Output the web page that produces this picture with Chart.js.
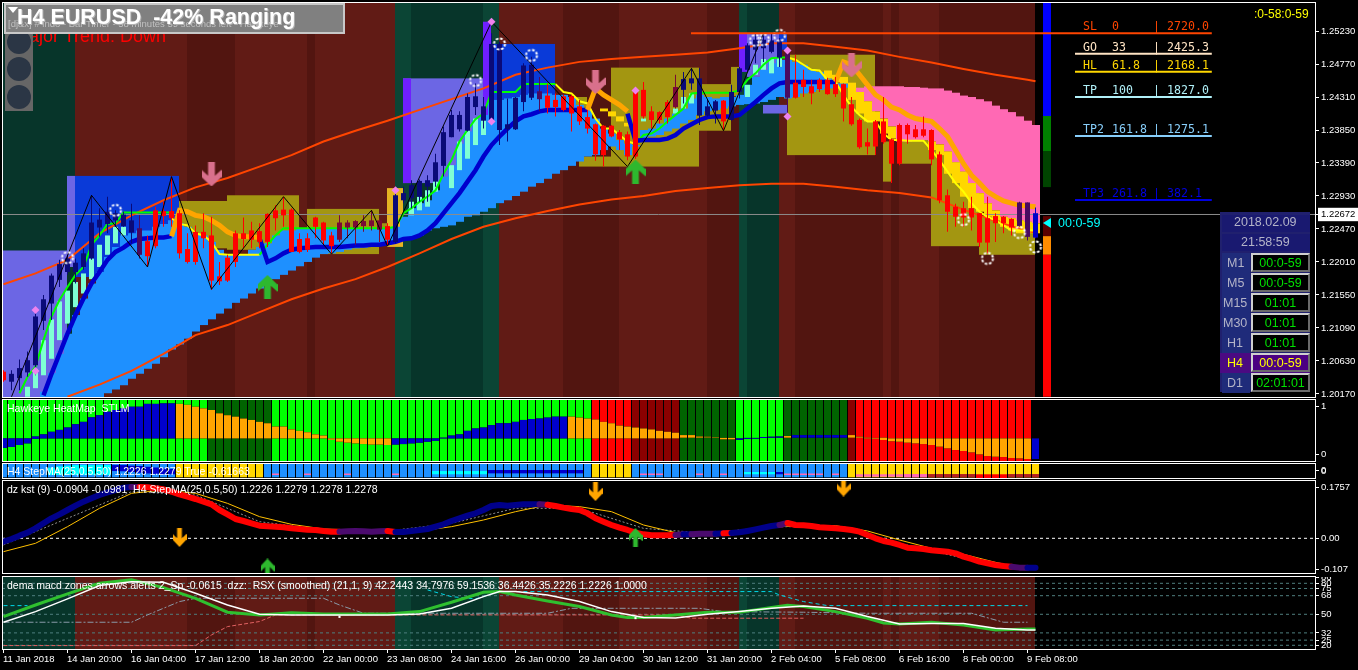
<!DOCTYPE html>
<html>
<head>
<meta charset="utf-8">
<title>H4 EURUSD</title>
<script src="https://cdn.jsdelivr.net/npm/chart.js@4/dist/chart.umd.min.js"></script>
<style>
  html, body { margin: 0; background: #000; width: 1358px; height: 670px; overflow: hidden; }
  canvas { position: absolute; left: 2px; }
  .frame { position: absolute; left: 2px; width: 1314px; border: 1px solid #fff; box-sizing: border-box; pointer-events: none; }
  .t { position: absolute; white-space: pre; font-family: "Liberation Sans", sans-serif; line-height: 1; }
</style>
</head>
<body>
<canvas id="mainPane" width="1356" height="394" style="top:3px"></canvas>
<canvas id="heatPane" width="1356" height="61" style="top:400px"></canvas>
<canvas id="stepPane" width="1356" height="14" style="top:464px"></canvas>
<canvas id="kstPane" width="1356" height="92" style="top:481px"></canvas>
<canvas id="rsxPane" width="1356" height="93" style="top:577px"></canvas>
<div class="frame" style="top:2px;height:396px"></div>
<div class="frame" style="top:399px;height:63px"></div>
<div class="frame" style="top:463px;height:16px"></div>
<div class="frame" style="top:480px;height:94px"></div>
<div class="frame" style="top:576px;height:74px"></div>
<div id="overlay"></div>
<script>
// ---- tick labels and axes ----
const timeLabels = ['11 Jan 2018','14 Jan 20:00','16 Jan 04:00','17 Jan 12:00','18 Jan 20:00','22 Jan 00:00','23 Jan 08:00','24 Jan 16:00','26 Jan 00:00','29 Jan 04:00','30 Jan 12:00','31 Jan 20:00','2 Feb 04:00','5 Feb 08:00','6 Feb 16:00','8 Feb 00:00','9 Feb 08:00']
const timeTicks = [0,8,16,24,32,40,48,56,64,72,80,88,96,104,112,120,128]
const currentPrice = 1.22672
const priceTicks = [1.2523,1.2477,1.2431,1.2385,1.2339,1.2293,1.2247,1.2201,1.2155,1.2109,1.2063,1.2017,currentPrice]
const heatTicks = [1,0]
const stepTicks = [0.05,-0.05]
const kstTicks = [0.1757,0,-0.107]
const kstTickText = ['0.1757','0.00','-0.107']
const rsxTicks = [86,80,75,68,50,32,25,20]

// ---- candles, one per 4 hour bar ----
const candleHigh = [
1.2050,1.2050,1.2065,1.2076,1.2134,1.2155,1.2185,1.2204,1.2211,1.2206,
1.2220,1.2294,1.2276,1.2292,1.2273,1.2271,1.2282,1.2266,1.2238,1.2278,
1.2285,1.2320,1.2273,1.2241,1.2252,1.2269,1.2264,1.2201,1.2211,1.2245,
1.2263,1.2257,1.2255,1.2269,1.2280,1.2292,1.2276,1.2241,1.2241,1.2264,
1.2257,1.2243,1.2266,1.2259,1.2259,1.2266,1.2273,1.2262,1.2255,1.2301,
1.2306,1.2315,1.2316,1.2322,1.2352,1.2390,1.2413,1.2411,1.2436,1.2450,
1.2431,1.2520,1.2508,1.2429,1.2431,1.2478,1.2487,1.2459,1.2450,1.2436,
1.2434,1.2434,1.2427,1.2413,1.2394,1.2392,1.2392,1.2385,1.2383,1.2443,
1.2452,1.2418,1.2411,1.2427,1.2462,1.2466,1.2471,1.2471,1.2427,1.2427,
1.2427,1.2448,1.2473,1.2506,1.2520,1.2517,1.2520,1.2513,1.2499,1.2490,
1.2469,1.2455,1.2457,1.2458,1.2459,1.2450,1.2431,1.2401,1.2387,1.2399,
1.2431,1.2373,1.2394,1.2394,1.2392,1.2404,1.2386,1.2355,1.2302,1.2282,
1.2285,1.2292,1.2269,1.2292,1.2269,1.2265,1.2262,1.2285,1.2284,1.2277]
const candleBodyTop = [
1.2048,1.2045,1.2053,1.2064,1.2125,1.2149,1.2182,1.2198,1.2206,1.2200,
1.2213,1.2256,1.2260,1.2271,1.2269,1.2267,1.2259,1.2248,1.2230,1.2273,
1.2272,1.2272,1.2269,1.2219,1.2243,1.2243,1.2238,1.2181,1.2207,1.2241,
1.2241,1.2245,1.2244,1.2268,1.2273,1.2274,1.2274,1.2233,1.2234,1.2263,
1.2256,1.2238,1.2256,1.2256,1.2258,1.2258,1.2259,1.2259,1.2251,1.2294,
1.2297,1.2308,1.2314,1.2315,1.2340,1.2382,1.2406,1.2406,1.2431,1.2432,
1.2418,1.2505,1.2505,1.2393,1.2430,1.2475,1.2476,1.2439,1.2433,1.2427,
1.2432,1.2432,1.2418,1.2403,1.2393,1.2391,1.2391,1.2382,1.2379,1.2441,
1.2441,1.2411,1.2410,1.2424,1.2445,1.2456,1.2457,1.2457,1.2418,1.2425,
1.2426,1.2438,1.2471,1.2503,1.2511,1.2511,1.2510,1.2510,1.2492,1.2451,
1.2455,1.2446,1.2455,1.2455,1.2449,1.2449,1.2421,1.2399,1.2368,1.2397,
1.2397,1.2372,1.2392,1.2392,1.2386,1.2386,1.2385,1.2351,1.2294,1.2278,
1.2276,1.2276,1.2269,1.2262,1.2265,1.2264,1.2261,1.2284,1.2284,1.2269]
const candleBodyBottom = [
1.2036,1.2034,1.2039,1.2047,1.2057,1.2119,1.2143,1.2176,1.2187,1.2187,
1.2194,1.2206,1.2249,1.2254,1.2259,1.2251,1.2242,1.2211,1.2209,1.2223,
1.2265,1.2262,1.2213,1.2201,1.2201,1.2234,1.2175,1.2174,1.2175,1.2201,
1.2233,1.2232,1.2229,1.2229,1.2262,1.2266,1.2215,1.2215,1.2218,1.2250,
1.2231,1.2223,1.2232,1.2249,1.2249,1.2251,1.2251,1.2246,1.2232,1.2229,
1.2287,1.2290,1.2292,1.2306,1.2313,1.2335,1.2375,1.2386,1.2384,1.2417,
1.2398,1.2397,1.2385,1.2386,1.2386,1.2424,1.2430,1.2428,1.2416,1.2417,
1.2413,1.2408,1.2397,1.2387,1.2351,1.2350,1.2376,1.2372,1.2348,1.2348,
1.2404,1.2399,1.2399,1.2403,1.2417,1.2441,1.2450,1.2405,1.2405,1.2412,
1.2397,1.2399,1.2438,1.2469,1.2497,1.2499,1.2494,1.2486,1.2430,1.2430,
1.2445,1.2436,1.2442,1.2435,1.2435,1.2415,1.2393,1.2361,1.2362,1.2362,
1.2368,1.2338,1.2338,1.2379,1.2375,1.2377,1.2344,1.2287,1.2271,1.2264,
1.2263,1.2263,1.2228,1.2228,1.2255,1.2255,1.2249,1.2251,1.2236,1.2235]
const candleLow = [
1.2034,1.2022,1.2022,1.2041,1.2043,1.2106,1.2120,1.2166,1.2183,1.2171,
1.2190,1.2204,1.2236,1.2241,1.2250,1.2250,1.2227,1.2206,1.2194,1.2220,
1.2250,1.2250,1.2206,1.2199,1.2197,1.2220,1.2162,1.2169,1.2173,1.2194,
1.2220,1.2220,1.2220,1.2222,1.2245,1.2250,1.2215,1.2213,1.2215,1.2234,
1.2225,1.2213,1.2229,1.2234,1.2225,1.2243,1.2245,1.2229,1.2225,1.2227,
1.2283,1.2276,1.2285,1.2285,1.2306,1.2320,1.2375,1.2383,1.2383,1.2406,
1.2387,1.2394,1.2364,1.2369,1.2385,1.2411,1.2427,1.2411,1.2408,1.2404,
1.2411,1.2383,1.2392,1.2380,1.2342,1.2334,1.2375,1.2357,1.2343,1.2345,
1.2401,1.2387,1.2394,1.2394,1.2415,1.2422,1.2441,1.2392,1.2404,1.2394,
1.2385,1.2398,1.2429,1.2466,1.2478,1.2480,1.2492,1.2473,1.2408,1.2429,
1.2431,1.2421,1.2438,1.2434,1.2431,1.2397,1.2391,1.2359,1.2351,1.2350,
1.2366,1.2311,1.2336,1.2366,1.2373,1.2375,1.2336,1.2283,1.2243,1.2250,
1.2250,1.2245,1.2222,1.2213,1.2229,1.2241,1.2238,1.2250,1.2231,1.2234]
// colour state of the candles, as run ends
const candleRunEnd = [1,17,18,42,48,49,67,68,84,85,90,91,98,99,127,129,130]
const candleRunKind = ['r','n','p','r','m','r','n','p','r','m','n','r','n','p','r','p','b']

// ---- overlays on the price pane ----
const maUp = [
null,null,null,null,null,1.2015,1.2045,1.2073,1.2101,1.2127,
1.2150,1.2171,1.2187,1.2204,1.2215,1.2221,1.2229,1.2233,1.2234,1.2235,
1.2235,1.2237,null,null,null,null,null,null,null,null,
null,null,1.2234,1.2201,1.2206,1.2213,1.2218,1.2220,1.2221,1.2222,
1.2222,1.2222,1.2222,1.2223,1.2224,1.2224,1.2225,1.2225,1.2227,1.2229,
1.2233,1.2234,1.2238,1.2245,1.2255,1.2269,1.2283,1.2297,1.2313,1.2329,
1.2348,1.2364,1.2376,1.2387,1.2397,1.2404,1.2407,1.2411,1.2413,1.2413,
1.2413,1.2413,1.2413,1.2413,null,null,null,null,1.2408,1.2370,
1.2371,1.2371,1.2371,1.2373,1.2378,1.2387,1.2393,1.2399,1.2403,1.2404,
1.2404,1.2404,1.2406,1.2415,1.2424,1.2434,1.2443,1.2450,1.2452,1.2452,
1.2452,1.2452,1.2452,1.2452,1.2452,null,null,null,null,null,
null,null,null,null,null,null,null,null,null,null,
null,null,null,null,null,null,null,null,null,null]
const maDown = [
null,null,null,null,null,null,null,null,null,null,
null,null,null,null,null,null,null,null,null,null,
null,1.2237,1.2273,1.2271,1.2266,1.2264,1.2259,1.2252,1.2243,1.2238,
1.2236,1.2236,1.2235,null,null,null,null,null,null,null,
null,null,null,null,null,null,null,null,null,null,
null,null,null,null,null,null,null,null,null,null,
null,null,null,null,null,null,null,null,null,null,
null,null,null,1.2413,1.2443,1.2434,1.2427,1.2420,1.2411,null,
null,null,null,null,null,null,null,null,null,null,
null,null,null,null,null,null,null,null,null,null,
null,null,null,null,1.2452,1.2480,1.2476,1.2462,1.2448,1.2434,
1.2427,1.2417,1.2413,1.2406,1.2401,1.2399,1.2397,1.2387,1.2376,1.2357,
1.2338,1.2322,1.2311,1.2299,1.2292,1.2286,1.2283,1.2280,1.2279,1.2278]
const fastUp = [
null,null,1.2018,1.2041,1.2055,1.2092,1.2125,1.2148,1.2166,1.2183,
1.2194,1.2225,1.2238,1.2254,1.2255,1.2270,1.2270,1.2270,1.2270,1.2270,
1.2270,1.2270,null,null,null,null,null,null,null,null,
null,null,1.2211,1.2225,1.2238,1.2248,1.2248,1.2248,1.2248,1.2248,
1.2248,1.2248,1.2248,1.2248,1.2248,1.2248,1.2248,1.2248,1.2248,1.2250,
1.2269,1.2276,1.2285,1.2292,1.2301,1.2324,1.2343,1.2369,1.2385,1.2400,
1.2408,1.2438,1.2438,1.2438,1.2438,1.2449,1.2449,1.2449,1.2449,1.2449,
null,null,null,null,null,null,null,null,null,1.2366,
1.2378,1.2380,1.2387,1.2397,1.2406,1.2415,1.2436,1.2437,1.2437,1.2437,
1.2437,1.2437,1.2441,1.2455,1.2464,1.2476,1.2485,1.2486,1.2486,null,
null,null,null,null,null,null,null,null,null,null,
null,null,null,null,null,null,null,null,null,null,
null,null,null,null,null,null,null,null,null,null]
const fastDown = [
null,null,null,null,null,null,null,null,null,null,
null,null,null,null,null,null,null,null,null,null,
null,1.2262,1.2254,1.2252,1.2241,1.2238,1.2229,1.2212,1.2211,1.2211,
1.2211,1.2211,1.2211,null,null,null,null,null,null,null,
null,null,null,null,null,null,null,null,null,null,
null,null,null,null,null,null,null,null,null,null,
null,null,null,null,null,null,null,null,null,1.2449,
1.2438,1.2436,1.2425,1.2422,1.2401,1.2387,1.2387,1.2378,1.2369,1.2366,
null,null,null,null,null,null,null,null,null,null,
null,null,null,null,null,null,null,null,1.2486,1.2483,
1.2476,1.2469,1.2468,1.2455,1.2452,1.2434,1.2417,1.2406,1.2397,1.2397,
1.2380,1.2371,1.2371,1.2370,1.2370,1.2370,1.2357,1.2343,1.2327,1.2311,
1.2299,1.2283,1.2271,1.2264,1.2259,1.2252,1.2245,1.2245,1.2245,1.2245]
// the bands are read every fourth bar
const upperBandBar = [0,4,8,12,16,20,24,28,32,36,40,44,48,52,56,60,64,68,72,76,80,84,88,92,96,100,104,108,112,116,120,124,128,129]
const upperBand = [1.2170,1.2185,1.2204,1.2241,1.2266,1.2287,1.2305,1.2318,1.2334,1.2350,1.2369,1.2384,1.2398,1.2413,1.2428,1.2443,1.2462,1.2472,1.2480,1.2484,1.2487,1.2490,1.2493,1.2499,1.2506,1.2506,1.2501,1.2496,1.2487,1.2479,1.2470,1.2462,1.2455,1.2453]
const lowerBandBar = [8,12,16,20,24,28,32,36,40,44,48,52,56,60,64,68,72,76,80,84,88,92,96,100,104,108,112,116,120,124,128,129]
const lowerBand = [1.2013,1.2030,1.2049,1.2073,1.2099,1.2113,1.2131,1.2149,1.2164,1.2177,1.2194,1.2213,1.2233,1.2250,1.2262,1.2272,1.2281,1.2288,1.2293,1.2300,1.2304,1.2308,1.2310,1.2310,1.2306,1.2301,1.2297,1.2291,1.2274,1.2258,1.2244,1.2242]
const zigzagBar = [1,11,18,21,26,35,41,46,48,61,78,86,90,95]
const zigzagPrice = [1.2013,1.2294,1.2194,1.2320,1.2163,1.2292,1.2212,1.2273,1.2223,1.2536,1.2334,1.2471,1.2384,1.2520]

// cloud between the fast line and the stepped lower edge
const cloudTop = [
null,null,null,null,null,1.2020,1.2046,1.2073,1.2101,1.2127,
1.2150,1.2171,1.2187,1.2208,1.2222,1.2238,1.2241,1.2245,1.2245,1.2250,
1.2254,1.2259,1.2255,1.2250,1.2241,1.2238,1.2229,1.2218,1.2211,1.2211,
1.2211,1.2218,1.2222,1.2227,1.2238,1.2245,1.2245,1.2248,1.2248,1.2248,
1.2248,1.2248,1.2248,1.2248,1.2248,1.2248,1.2248,1.2248,1.2248,1.2250,
1.2264,1.2276,1.2283,1.2287,1.2301,1.2320,1.2336,1.2366,1.2383,1.2399,
1.2406,1.2427,1.2427,1.2429,1.2431,1.2434,1.2436,1.2436,1.2436,1.2434,
1.2434,1.2431,1.2420,1.2413,1.2401,1.2387,1.2380,1.2371,1.2366,1.2364,
1.2385,1.2387,1.2394,1.2401,1.2408,1.2415,1.2429,1.2434,1.2431,1.2429,
1.2431,1.2431,1.2434,1.2448,1.2459,1.2469,1.2478,1.2483,1.2483,1.2480,
1.2476,1.2469,1.2466,1.2457,1.2450,1.2450,1.2448,1.2444,1.2446,1.2446,
1.2446,1.2446,1.2446,1.2445,1.2445,1.2444,1.2443,1.2443,1.2440,1.2437,
1.2433,1.2431,1.2428,1.2425,1.2419,1.2414,1.2410,1.2404,1.2398,1.2392]
const cloudBottom = [
null,null,null,null,null,1.2010,1.2010,1.2010,1.2010,1.2010,
1.2010,1.2010,1.2010,1.2018,1.2023,1.2029,1.2038,1.2045,1.2052,1.2059,
1.2068,1.2079,1.2086,1.2094,1.2104,1.2113,1.2121,1.2129,1.2136,1.2144,
1.2150,1.2157,1.2164,1.2171,1.2177,1.2183,1.2189,1.2195,1.2201,1.2207,
1.2212,1.2213,1.2215,1.2218,1.2220,1.2221,1.2223,1.2225,1.2225,1.2229,
1.2232,1.2235,1.2238,1.2245,1.2248,1.2250,1.2252,1.2257,1.2264,1.2266,
1.2271,1.2276,1.2283,1.2287,1.2293,1.2299,1.2306,1.2311,1.2317,1.2324,
1.2329,1.2335,1.2341,1.2348,1.2350,1.2357,1.2362,1.2357,1.2350,1.2362,
1.2373,1.2376,1.2378,1.2383,1.2387,1.2394,1.2399,1.2406,1.2411,1.2413,
1.2415,1.2418,1.2420,1.2421,1.2422,1.2424,1.2427,1.2431,1.2429,1.2431,
1.2436,1.2438,1.2441,1.2443,1.2443,1.2444,1.2444,1.2438,1.2425,1.2411,
1.2401,1.2390,1.2369,1.2369,1.2371,1.2371,1.2369,1.2365,1.2355,1.2340,
1.2327,1.2311,1.2297,1.2283,1.2273,1.2264,1.2262,1.2259,1.2257,1.2255]
const cloudRunEnd = [107,130]
const cloudRunKind = ['blue','pink']

const goldBar = [75,76,77,78,103,104,105,106,107,108,109,110,111,116,117,118,119,120,121,122,123,124,125,126,127,128,129]
const goldTop = [1.2415,1.2411,1.2404,1.2395,1.2468,1.2462,1.2459,1.2451,1.2438,1.2425,1.2411,1.2401,1.2390,1.2369,1.2365,1.2355,1.2340,1.2327,1.2311,1.2297,1.2283,1.2273,1.2264,1.2262,1.2259,1.2257,1.2255]
const goldBottom = [1.2411,1.2404,1.2397,1.2390,1.2457,1.2452,1.2450,1.2427,1.2408,1.2397,1.2397,1.2380,1.2373,1.2357,1.2350,1.2324,1.2311,1.2292,1.2276,1.2271,1.2264,1.2259,1.2250,1.2245,1.2241,1.2241,1.2241]
const aquaBar = [3,4,5,6,7,8,9,10,11,12,13,14,15,51,52,53,54,56,57,58,59,60,80,84,85,86,93,94,95,96,97]
const aquaTop = [1.2027,1.2052,1.2092,1.2121,1.2146,1.2161,1.2173,1.2185,1.2206,1.2225,1.2238,1.2250,1.2250,1.2285,1.2292,1.2301,1.2322,1.2336,1.2369,1.2385,1.2401,1.2401,1.2401,1.2415,1.2431,1.2436,1.2448,1.2476,1.2484,1.2484,1.2486]
const aquaBottom = [1.2013,1.2025,1.2043,1.2066,1.2092,1.2115,1.2138,1.2157,1.2177,1.2194,1.2211,1.2227,1.2238,1.2266,1.2273,1.2278,1.2299,1.2304,1.2329,1.2345,1.2364,1.2378,1.2397,1.2408,1.2415,1.2422,1.2431,1.2462,1.2469,1.2464,1.2473]

// rectangles on the price pane: first and end slot, price range, kind
const boxFrom = [0,8,9,22,28,38,47,48,50,50,60,61,72,71,76,87,91,92,93,97,95,98,110,112,116,122]
const boxTo = [8,9,22,28,37,47,48,50,60,51,61,69,76,73,87,91,92,93,97,98,98,109,111,116,122,129]
const boxHigh = [1.2217,1.2321,1.2321,1.2286,1.2294,1.2275,1.2255,1.2304,1.2457,1.2457,1.2536,1.2505,1.2348,1.2431,1.2472,1.2449,1.2473,1.2520,1.2520,1.2520,1.2420,1.2490,1.2369,1.2371,1.2357,1.2264]
const boxLow = [1.2008,1.2194,1.2180,1.2220,1.2218,1.2212,1.2225,1.2222,1.2311,1.2311,1.2397,1.2427,1.2334,1.2406,1.2334,1.2384,1.2432,1.2466,1.2459,1.2497,1.2408,1.2350,1.2313,1.2338,1.2223,1.2211]
const boxKind = ['pale','pale','blue','olive','olive','olive','olive','gold','pale','violet','violet','blue','olive','olive','olive','olive','olive','violet','pale','blue','pale','olive','olive','olive','olive','olive']

// background trend zones, run ends in slots
const zoneRunEnd = [9,23,29,38,39,49,51,60,62,70,77,88,92,93,97,99,110,111,112,117,129]
const zoneRunKind = ['g','R','r','R','r','R','G','g','G','R','r','R','r','G','g','R','r','R','r','R','r']

// level gauge at the right of the bars
const gaugeHigh = [1.2566,1.24045,1.23557,1.2265,1.2237,1.2211]
const gaugeLow = [1.24045,1.23557,1.23054,1.2237,1.2211,1.2013]
const gaugeKind = ['#0000ff','#008000','#004400','#5a0000','#ff8c00','#ff0000']

const diamondBar = [4,4,49,61,61,79,98,98]
const diamondPrice = [1.2134,1.2049,1.2301,1.2536,1.2397,1.2440,1.2496,1.2404]
const gearBar = [8,14,59,62,66,94,95,97,120,127,123,129]
const gearPrice = [1.2207,1.2273,1.2454,1.2505,1.2489,1.2510,1.2511,1.2517,1.2260,1.2242,1.2206,1.2222]
const sellBar = [26,74,106]
const sellPrice = [1.2323,1.2452,1.2475]
const buyBar = [33,79]
const buyPrice = [1.2166,1.2327]

// fibonacci levels drawn to the right
const fibNames = ['SL','GO','HL','TP','TP2','TP3']
const fibRatios = ['0','33','61.8','100','161.8','261.8']
const fibPoints = ['2720.0','2425.3','2168.1','1827.0','1275.1','382.1']
const fibPrices = [1.2520,1.24914,1.24663,1.2431,1.23766,1.22873]

// ---- heat map pane ----
const heatHigh = [
0.33,0.33,0.33,0.33,0.37,0.415,0.47,0.51,0.56,0.63,
0.68,0.775,0.82,0.895,0.93,0.965,1.0,1.0,1.06,1.06,
1.07,1.07,1.06,1.04,1.0,0.965,0.93,0.86,0.82,0.79,
0.75,0.72,0.68,0.65,0.58,0.58,0.52,0.49,0.46,0.415,
0.39,0.33,0.33,0.33,0.33,0.33,0.33,0.33,0.33,0.33,
0.33,0.33,0.33,0.33,0.33,0.345,0.39,0.415,0.49,0.54,
0.56,0.61,0.65,0.65,0.68,0.72,0.74,0.75,0.77,0.79,
0.79,0.79,0.77,0.75,0.73,0.68,0.65,0.60,0.58,0.56,
0.54,0.52,0.49,0.47,0.45,0.40,0.40,0.37,0.365,0.35,
0.34,0.34,0.33,0.34,0.34,0.36,0.365,0.37,0.38,0.40,
0.40,0.40,0.40,0.40,0.40,0.40,0.40,0.365,0.345,0.34,
0.345,0.33,0.33,0.33,0.33,0.33,0.33,0.33,0.33,0.33,
0.33,0.33,0.33,0.33,0.33,0.33,0.33,0.33,0.33,0.33]
const heatLow = [
0.13,0.15,0.19,0.225,0.32,0.33,0.33,0.33,0.33,0.33,
0.33,0.33,0.33,0.33,0.33,0.33,0.33,0.33,0.33,0.33,
0.33,0.33,0.33,0.33,0.33,0.33,0.33,0.33,0.33,0.33,
0.33,0.33,0.33,0.33,0.33,0.33,0.33,0.33,0.33,0.33,
0.33,0.30,0.26,0.24,0.225,0.21,0.20,0.20,0.19,0.20,
0.21,0.225,0.24,0.26,0.28,0.33,0.33,0.33,0.33,0.33,
0.33,0.33,0.33,0.33,0.33,0.33,0.33,0.33,0.33,0.33,
0.33,0.33,0.33,0.33,0.33,0.33,0.33,0.33,0.33,0.33,
0.33,0.33,0.33,0.33,0.33,0.345,0.345,0.345,0.35,0.34,
0.31,0.31,0.30,0.32,0.325,0.34,0.345,0.345,0.345,0.345,
0.345,0.345,0.345,0.345,0.345,0.345,0.345,0.345,0.33,0.325,
0.296,0.27,0.26,0.24,0.225,0.21,0.19,0.155,0.12,0.084,
0.063,0.035,-0.007,-0.043,-0.057,-0.064,-0.085,-0.092,-0.106,-0.106]
const heatRunEnd = [26,34,74,79,85,92,98,106,107,129]
const heatRunKind = ['lime','dkgreen','lime','red','dkred','dkgreen','lime','dkgreen','dkred','red']
const heatMidRunEnd = [22,49,71,92,98,99,106,129,130]
const heatMidRunKind = ['blue','orange','blue','orange','blue','orange','blue','orange','blue']

// ---- step pane ----
const stepRunEnd = [22,33,74,79,106,130]
const stepRunKind = ['blue','gold','blue','gold','blue','gold']
const stepMarkBar = [6,7,8,9,10,11,12,13,14,15,16,17,18,19,20,21,34,38,43,49,54,55,56,57,58,59,60,61,62,63,64,65,66,67,68,69,70,71,72,80,81,82,87,90,93,94,95,96,97,98,99,100,101,102,104,107,108,109,110,111,112,113,114,115,116,117,118,119,120,121,122,123,124,125,126,127,128,129]
const stepMarkHigh = [0.38,0.55,0.64,0.73,0.73,0.73,0.73,0.73,0.73,0.73,0.65,0.6,0.5,0.4,0.3,0.2,-0.4,-0.4,-0.4,-0.4,-0.07,-0.07,-0.07,-0.07,-0.07,-0.07,-0.07,0.07,0.07,0.07,0.07,0.07,0.07,0.07,0.07,0.07,0.07,0.07,0.07,-0.4,-0.4,-0.4,-0.4,-0.4,-0.2,-0.2,-0.2,-0.2,-0.2,-0.4,-0.4,-0.4,-0.4,-0.4,-0.4,-0.5,-0.5,-0.5,-0.5,-0.5,-0.5,-0.47,-0.47,-0.47,-0.47,-0.47,-0.47,-0.47,-0.47,-0.47,-0.5,-0.5,-0.5,-0.5,-0.47,-0.47,-0.47,-0.47]
const stepMarkLow = [-0.6,-0.6,-0.6,-0.6,-0.6,-0.6,-0.6,-0.6,-0.07,-0.1,-0.2,-0.3,-0.4,-0.45,-0.5,-0.5,-0.6,-0.6,-0.6,-0.6,-0.5,-0.5,-0.5,-0.5,-0.5,-0.5,-0.5,-0.38,-0.38,-0.38,-0.38,-0.38,-0.38,-0.38,-0.38,-0.38,-0.38,-0.38,-0.38,-0.6,-0.6,-0.6,-0.6,-0.6,-0.5,-0.5,-0.5,-0.5,-0.5,-0.6,-0.6,-0.6,-0.6,-0.6,-0.6,-0.82,-0.82,-0.82,-0.82,-0.82,-0.82,-0.91,-0.91,-0.91,-0.91,-0.91,-0.91,-0.91,-0.91,-0.91,-1,-1,-1,-1,-0.91,-0.91,-0.91,-0.91]
const stepMarkRunEnd = [8,16,20,27,39,44,48,49,55,64,70,74,78]
const stepMarkRunKind = ['cyan','navy','pink','cyan','navy','pink','cyan','navy','pink','pink','brick','red','brick']

// ---- kst pane ----
const kstMain = [
-0.0117,-0.0024,0.0092,0.0196,0.0346,0.052,0.0694,0.0832,0.0983,0.1133,
0.1272,0.1388,0.1504,0.1596,0.1677,0.1758,0.1782,0.1782,0.177,0.1735,
0.1701,0.162,0.1527,0.1446,0.1365,0.1272,0.118,0.0983,0.0832,0.067,
0.0601,0.052,0.0439,0.0416,0.0404,0.0381,0.0346,0.0323,0.03,0.0289,
0.0254,0.0231,0.0231,0.0242,0.0254,0.0242,0.0231,0.0242,0.0254,0.0219,
0.0219,0.0254,0.0289,0.0323,0.0404,0.0485,0.0601,0.0694,0.0786,0.0867,
0.0983,0.1122,0.1157,0.1133,0.1157,0.118,0.118,0.118,0.1168,0.1122,
0.1064,0.1018,0.0983,0.0867,0.0694,0.0578,0.0462,0.037,0.0289,0.0196,
0.0138,0.0103,0.0103,0.0103,0.0115,0.0138,0.0138,0.0161,0.0161,0.0161,
0.0173,0.0184,0.0208,0.0254,0.0312,0.037,0.0427,0.0462,0.0532,0.0462,
0.0451,0.0427,0.0381,0.037,0.0346,0.0323,0.0289,0.0231,0.0115,-0.0001,
-0.0093,-0.0151,-0.0232,-0.0325,-0.0348,-0.0371,-0.0417,-0.044,-0.0464,-0.0522,
-0.0637,-0.0718,-0.081,-0.0868,-0.0927,-0.0961,-0.0985,-0.1019,-0.1019,-0.1019]
const kstRunEnd = [16,17,42,48,49,67,68,84,85,86,89,90,91,97,98,126,128,130]
const kstRunKind = ['n','p','r','p','r','n','p','r','p','n','p','n','r','n','p','r','p','n']
const kstSignalBar = [0,4,8,12,16,20,24,28,32,36,40,44,48,52,56,60,64,68,72,76,80,84,88,92,96,100,104,108,112,116,120,124,126]
const kstSignal = [-0.0464,-0.0174,0.0404,0.1041,0.1562,0.1677,0.1562,0.1214,0.0752,0.0485,0.0323,0.0289,0.0208,0.0254,0.0404,0.0636,0.0925,0.1157,0.1099,0.0925,0.0462,0.0196,0.0173,0.0231,0.0381,0.0451,0.0439,0.0254,-0.0059,-0.0348,-0.0556,-0.0834,-0.095]
const kstDotBar = [0,8,16,24,32,40,48,56,64,72,80,88,96,104,112,120,126]
const kstDot = [-0.0232,0.0694,0.162,0.1504,0.0578,0.0289,0.0254,0.052,0.1041,0.1041,0.0346,0.0173,0.0404,0.0404,-0.0174,-0.0695,-0.0985]
const kstSellBar = [22,74,105]
const kstSell = [0.0028,0.1625,0.178]
const kstBuyBar = [33,79]
const kstBuy = [-0.103,0.0028]

// ---- rsx pane ----
const rsxLevels = [80,75,68,50,32,25,20]
const rsxGreenBar = [0,4,8,12,16,20,24,28,32,36,40,44,48,52,56,60,62,64,68,72,76,78,80,84,88,92,96,98,100,104,108,110,112,116,120,124,128,129]
const rsxGreen = [47.8,59,69.7,80,83.3,75.8,65.5,52,49.4,51.6,50.4,50.4,50.4,52.6,61.6,71.3,72,68.7,62.9,57.5,49.4,46.8,46.8,49.4,52,52,56.5,58.7,57.5,52.6,46.2,41.6,40.7,42.3,39.7,34.9,35.8,35.8]
const rsxWhiteBar = [0,4,8,12,16,20,24,28,32,36,40,44,48,52,56,60,62,64,68,72,76,80,84,88,92,96,100,104,108,112,116,120,124,128,129]
const rsxWhite = [42.3,52.6,64.9,77.8,81.6,81,70.4,59,50,49.4,49.4,49.4,49.4,50.4,55.8,67.1,72,72,68.7,62.3,52.6,46.8,46.5,50,52.6,55.8,58.1,55.8,47.8,40.7,41,41,36.5,34.9,34.9]
const rsxCyanBar = [0,3,4,53,56,59,62,84,88,96,97,100,103,128]
const rsxCyan = [58.4,58.4,null,73.6,67.1,64.9,72,72,72,72,68.7,62.3,58.4,58.4]
const rsxGreyBar = [0,16,18,22,24,40,42,45,68,71,87,90,100,108,121,125,128]
const rsxGrey = [42.3,42.3,49.4,62.3,65.5,65.5,59,51,51,55.8,55.8,52.6,52,51,51,42.3,42.3]
const rsxSalmonBar = [0,24,26,28,32,34,84,86,100]
const rsxSalmon = [19.7,19.7,30,38.1,43,49.4,49.4,46.2,46.2]
const rsxDotBar = [42,79]
const rsxDot = [47.5,46.3]

// ---- texts ----
const clockFrames = ['M1','M5','M15','M30','H1','H4','D1']
const clockTimes = ['00:0-59','00:0-59','01:01','01:01','01:01','00:0-59','02:01:01']

// ---- colours ----
const candleColors = {r:'#ff0000', n:'#0a0a78', p:'#4a0a60', m:'#7a0a35', b:'#0000c8'}
const zoneColors = {g:'#07352a', G:'#0b4535', r:'#521510', R:'#611b15'}
const boxColors = {pale:'#6c66e4', blue:'#0a3ad8', olive:'#a39611', gold:'#e6b422', violet:'#6f1fff'}
const heatColors = {lime:'#00ff00', dkgreen:'#006400', red:'#ff0000', dkred:'#8b0000', blue:'#0000cd', orange:'#ffa500'}
const stepColors = {blue:'#1e90ff', gold:'#ffd700', cyan:'#00ffff', navy:'#0000cd', pink:'#ff69b4', brick:'#b22222', red:'#ff0000'}
const kstColors = {n:'#00008b', p:'#4b0a6e', r:'#ff0000'}

function fromRuns(ends, kinds) {
    const out = []
    let start = 0
    ends.forEach((end, n) => {
        for (let i = start; i < end; i++) out.push(kinds[n])
        start = end
    })
    return out
}

// bars sit in the middle of their candle, slots lie between two bars,
// cells are full width columns that touch each other
const atBar = i => i + 0.0625
const atSlot = k => k + 0.5
const atCell = i => i + 0.125

function barSet(rows, thickness, colors) {
    return {type: 'bar', data: rows, barThickness: thickness, backgroundColor: colors, borderWidth: 0,
        borderSkipped: false, grouped: false, inflateAmount: 0}
}
function lineSet(rows, color, width, dash) {
    return {type: 'line', data: rows, borderColor: color, borderWidth: width, borderDash: dash || [],
        pointRadius: 0, tension: 0, fill: false, spanGaps: false}
}
function pointSet(rows, style, radius, color) {
    return {type: 'line', data: rows, showLine: false, pointStyle: style, pointRadius: radius,
        backgroundColor: color || '#fff', borderColor: color || '#fff', borderWidth: 0}
}
const byBar = (bars, values) => bars.map((b, n) => ({x: atBar(b), y: values[n]}))
const wholeSeries = values => values.map((v, i) => ({x: atBar(i), y: v}))

function arrowImage(color, w, h, up) {
    const c = document.createElement('canvas')
    c.width = w
    c.height = h
    const g = c.getContext('2d')
    if (up) {
        g.translate(0, h)
        g.scale(1, -1)
    }
    const shaft = w * 0.17
    g.fillStyle = color
    g.beginPath()
    g.moveTo(w / 2 - shaft, 0)
    g.lineTo(w / 2 + shaft, 0)
    g.lineTo(w / 2 + shaft, h * 0.55)
    g.lineTo(w, h * 0.3)
    g.lineTo(w, h * 0.6)
    g.lineTo(w / 2, h)
    g.lineTo(0, h * 0.6)
    g.lineTo(0, h * 0.3)
    g.lineTo(w / 2 - shaft, h * 0.55)
    g.closePath()
    g.fill()
    return c
}
function gearImage() {
    const c = document.createElement('canvas')
    c.width = 16
    c.height = 16
    const g = c.getContext('2d')
    g.strokeStyle = '#fff'
    g.lineWidth = 2
    g.setLineDash([2.6, 1.7])
    g.beginPath()
    g.arc(8, 8, 5.5, 0, Math.PI * 2)
    g.stroke()
    return c
}

const xMin = -0.125, xMax = 164

function paneOptions(yMin, yMax, ticks, tickText, yTickExtra, showTime) {
    return {
        responsive: false,
        animation: false,
        events: [],
        layout: {padding: 0, autoPadding: false},
        plugins: {legend: {display: false}, tooltip: {enabled: false}},
        scales: {
            x: {
                type: 'linear', min: xMin, max: xMax, offset: false, display: !!showTime,
                grid: {display: !!showTime, drawOnChartArea: false, tickLength: 4, color: '#fff', offset: false},
                border: {color: '#fff'},
                afterBuildTicks: s => { s.ticks = timeTicks.map(value => ({value})) },
                afterFit: s => {
                    if (showTime) s.height = 21
                    s.paddingLeft = 0
                    s.paddingRight = 0
                },
                ticks: {align: 'start', autoSkip: false, maxRotation: 0, color: '#fff', padding: 1,
                    font: {family: '"Liberation Sans"', size: 9.5},
                    callback: (v, n) => timeLabels[n]}
            },
            y: {
                type: 'linear', position: 'right', min: yMin, max: yMax,
                grid: {drawOnChartArea: false, tickLength: 4, color: '#fff'},
                border: {color: '#fff'},
                afterBuildTicks: s => { s.ticks = ticks.map(value => ({value})) },
                afterFit: s => { s.width = 43; s.paddingTop = 0; s.paddingBottom = 0 },
                ticks: Object.assign({autoSkip: false, color: '#fff', padding: 2,
                    font: {family: '"Liberation Sans"', size: 9.5},
                    callback: (v, n) => tickText(v, n)}, yTickExtra || {})
            }
        }
    }
}

function drawPane(id, datasets, options) {
    // first entry is the back layer
    datasets.forEach((d, n) => { d.order = datasets.length - n })
    return new Chart(document.getElementById(id).getContext('2d'), {type: 'line', data: {datasets}, options})
}

function zoneBars(low, high) {
    const kinds = fromRuns(zoneRunEnd, zoneRunKind)
    return barSet(kinds.map((k, n) => ({x: atSlot(n), y: [low, high]})), 8, kinds.map(k => zoneColors[k]))
}

// ---- price pane ----
const priceTop = 1.25621, priceBottom = 1.20127
const mainSets = []
mainSets.push(zoneBars(priceBottom, priceTop))
boxFrom.forEach((from, b) => {
    const rows = []
    for (let k = from; k < boxTo[b]; k++) rows.push({x: atSlot(k), y: [boxLow[b], boxHigh[b]]})
    mainSets.push(barSet(rows, 8, boxColors[boxKind[b]]))
})
const cloudRows = [], cloudFill = []
const cloudKinds = fromRuns(cloudRunEnd, cloudRunKind)
cloudTop.forEach((top, i) => {
    if (top === null) return
    cloudRows.push({x: atCell(i), y: [cloudBottom[i], top]})
    cloudFill.push(cloudKinds[i] === 'pink' ? '#ff69b4' : '#1e90ff')
})
mainSets.push(barSet(cloudRows, 8, cloudFill))
mainSets.push(barSet(goldBar.map((b, n) => ({x: atCell(b), y: [goldBottom[n], goldTop[n]]})), 8, '#ffd700'))
mainSets.push(barSet(aquaBar.map((b, n) => ({x: atBar(b), y: [aquaBottom[n], aquaTop[n]]})), 5, '#7fffd4'))
const gaugeRows = gaugeHigh.map((h, n) => ({x: atSlot(130), y: [gaugeLow[n], h]}))
mainSets.push(barSet(gaugeRows, 8, gaugeKind))
mainSets.push(lineSet([{x: xMin, y: currentPrice}, {x: xMax, y: currentPrice}], '#8c8c8c', 1))
mainSets.push(lineSet(byBar(upperBandBar, upperBand), '#ff4500', 2))
mainSets.push(lineSet(byBar(lowerBandBar, lowerBand), '#ff4500', 2))
mainSets.push(lineSet(wholeSeries(fastDown), '#ffff00', 2))
mainSets.push(lineSet(wholeSeries(fastUp), '#00ff00', 2))
mainSets.push(lineSet(wholeSeries(maUp), '#0000cd', 4.5))
mainSets.push(lineSet(wholeSeries(maDown), '#ffa500', 5))
const candleKinds = fromRuns(candleRunEnd, candleRunKind)
const candleFill = candleKinds.map(k => candleColors[k])
mainSets.push(barSet(candleHigh.map((h, i) => ({x: atBar(i), y: [candleLow[i], h]})), 1, candleFill))
mainSets.push(barSet(candleBodyTop.map((t, i) => ({x: atBar(i), y: [candleBodyBottom[i], t]})), 5, candleFill))
mainSets.push(lineSet(byBar(zigzagBar, zigzagPrice), '#000000', 1))
mainSets.push(pointSet(byBar(diamondBar, diamondPrice), 'rectRot', 4, '#ee82ee'))
mainSets.push(pointSet(byBar(gearBar, gearPrice), gearImage(), 5))
mainSets.push(pointSet(byBar(sellBar, sellPrice), arrowImage('#d9708c', 20, 24, false), 5))
mainSets.push(pointSet(byBar(buyBar, buyPrice), arrowImage('#2eb82e', 20, 24, true), 5))
const fibLineColor = ['#ff4500', '#ffe4c4', '#ffd700', '#b0f0f8', '#87cefa', '#0000e0']
fibPrices.forEach((p, n) => {
    const from = n === 0 ? 86 : 134
    mainSets.push(lineSet([{x: from, y: p}, {x: 151.1, y: p}], fibLineColor[n], 2))
})
drawPane('mainPane', mainSets, paneOptions(priceBottom, priceTop, priceTicks, v => v.toFixed(5), {
    color: c => c.tick && c.tick.value === currentPrice ? '#000' : '#fff',
    showLabelBackdrop: c => !!c.tick && c.tick.value === currentPrice,
    backdropColor: '#fff',
    backdropPadding: {x: 3, y: 1}
}))

// ---- heat map ----
const heatTopKinds = fromRuns(heatRunEnd, heatRunKind)
const heatMidKinds = fromRuns(heatMidRunEnd, heatMidRunKind)
const heatMaxV = 1.142, heatMinV = -0.148
const heatSets = [
    barSet(heatTopKinds.map((k, i) => ({x: atBar(i), y: [heatHigh[i], heatMaxV]})), 7, heatTopKinds.map(k => heatColors[k])),
    barSet(heatTopKinds.map((k, i) => ({x: atBar(i), y: [heatMinV, heatLow[i]]})), 7, heatTopKinds.map(k => heatColors[k])),
    barSet(heatHigh.map((h, i) => ({x: atBar(i), y: [heatLow[i], h]})), 7, heatMidKinds.map(k => heatColors[k]))
]
drawPane('heatPane', heatSets, paneOptions(heatMinV, heatMaxV, heatTicks, v => String(v)))

// ---- step ----
const stepKinds = fromRuns(stepRunEnd, stepRunKind)
const stepMarkKinds = fromRuns(stepMarkRunEnd, stepMarkRunKind)
const stepSets = [
    barSet(stepKinds.map((k, i) => ({x: atBar(i), y: [-0.91, 0.87]})), 7, stepKinds.map(k => stepColors[k])),
    barSet(stepMarkBar.map((b, n) => ({x: atBar(b), y: [stepMarkLow[n], stepMarkHigh[n]]})), 7, stepMarkKinds.map(k => stepColors[k]))
]
drawPane('stepPane', stepSets, paneOptions(-1, 0.87, stepTicks, () => '0'))

// ---- kst ----
const kstKinds = fromRuns(kstRunEnd, kstRunKind)
const kstSets = [
    lineSet([{x: xMin, y: 0}, {x: xMax, y: 0}], '#ffffff', 1, [3, 3]),
    lineSet(byBar(kstDotBar, kstDot), '#909090', 1, [2, 2]),
    lineSet(byBar(kstSignalBar, kstSignal), '#ffc000', 1),
    Object.assign(lineSet(wholeSeries(kstMain), '#00008b', 6), {
        segment: {borderColor: c => kstColors[kstKinds[c.p0DataIndex]]}, borderCapStyle: 'round', borderJoinStyle: 'round'
    }),
    pointSet(byBar(kstSellBar, kstSell), arrowImage('#ffa500', 14, 19, false), 5),
    pointSet(byBar(kstBuyBar, kstBuy), arrowImage('#2eb82e', 14, 19, true), 5)
]
drawPane('kstPane', kstSets, paneOptions(-0.1205, 0.199, kstTicks, (v, n) => kstTickText[n]))

// ---- rsx ----
const rsxSets = [zoneBars(16.4, 86.1)]
rsxLevels.forEach(level => {
    rsxSets.push(lineSet([{x: xMin, y: level}, {x: xMax, y: level}], '#4f7f7f', 1, [3, 3]))
})
rsxSets.push(lineSet(byBar(rsxSalmonBar, rsxSalmon), '#e06060', 1, [4, 2]))
rsxSets.push(lineSet(byBar(rsxGreyBar, rsxGrey), '#8a9aa8', 1, [6, 2, 2, 2]))
rsxSets.push(lineSet(byBar(rsxCyanBar, rsxCyan), '#00d8e8', 1, [4, 3]))
rsxSets.push(lineSet(byBar(rsxGreenBar, rsxGreen), '#2fc02f', 3))
rsxSets.push(lineSet(byBar(rsxWhiteBar, rsxWhite), '#ffffff', 1.5))
rsxSets.push(pointSet(byBar(rsxDotBar, rsxDot), 'rect', 1.5, '#fff'))
drawPane('rsxPane', rsxSets, paneOptions(16.4, 86.1, rsxTicks, v => String(v), null, true))

// ---- text on top of the chart ----
const overlay = document.getElementById('overlay')
function put(text, left, top, size, color, extra) {
    const d = document.createElement('div')
    d.className = 't'
    d.textContent = text
    d.style.cssText = 'left:' + left + 'px;top:' + top + 'px;font-size:' + size + 'px;color:' + color + ';' + (extra || '')
    overlay.appendChild(d)
    return d
}
function block(left, top, w, h, css) {
    const d = document.createElement('div')
    d.style.cssText = 'position:absolute;box-sizing:border-box;left:' + left + 'px;top:' + top + 'px;width:' + w + 'px;height:' + h + 'px;' + css
    overlay.appendChild(d)
}

put('Major Trend: Down', 14, 27, 18, '#ff0000')
block(5, 33, 28, 78, 'background:#666')
;[42, 69, 97].forEach(y => block(7, y - 12, 24, 24, 'border-radius:50%;background:#2b3645'))
block(4, 3, 341, 31, 'background:#808080;border:2px solid #c8c8c8')
put('[dj&x] # indo - Bar Timer - 58 minutes 59 seconds left - Hawkeye', 8, 19, 9.5, '#c0c0c0')
put('H4 EURUSD  -42% Ranging', 17, 7, 21.5, '#fff', 'font-weight:bold;text-shadow:1px 1px 0 #b0b0b0')
block(8, 7, 0, 0, 'border-left:5px solid transparent;border-right:5px solid transparent;border-top:6px solid #fff')

put(':0-58:0-59', 1254, 8, 12, '#ffff00')
block(1043, 218, 0, 0, 'border-top:5px solid transparent;border-bottom:5px solid transparent;border-right:8px solid #00ffff')
put('00:0-59', 1058, 217, 12.5, '#00ffff')

const fibRowTop = [21, 42, 60, 85, 124, 188]
fibNames.forEach((name, n) => {
    const css = 'font-family:\'DejaVu Sans Mono\',monospace'
    put(name, 1083, fibRowTop[n], 11.6, fibLineColor[n], css)
    put(fibRatios[n], 1112, fibRowTop[n], 11.6, fibLineColor[n], css)
    put('|', 1153, fibRowTop[n], 11.6, fibLineColor[n], css)
    put(fibPoints[n], 1167, fibRowTop[n], 11.6, fibLineColor[n], css)
})

// clock panel
block(1220, 212, 90, 180, 'background:#20206e')
block(1222, 215, 88, 17, 'background:#191970')
put('2018.02.09', 1234, 216, 12.5, '#b4b4c8')
block(1222, 234, 88, 17, 'background:#191970')
put('21:58:59', 1241, 236, 12.5, '#b4b4c8')
clockFrames.forEach((frame, n) => {
    const top = 253 + n * 20
    const active = frame === 'H4'
    block(active ? 1220 : 1222, top, active ? 90 : 28, 20, active ? 'background:#4b0a82' : 'background:#1f2b7a')
    put(frame, frame.length > 2 ? 1223 : 1227, top + 4, 12.5, active ? '#ffff00' : '#b4b4c8')
    block(1251, top, 59, 19, (active ? 'background:#4b0082;' : 'background:#000;') +
        'border:2px solid;border-color:#cfcfcf #6a6a6a #6a6a6a #cfcfcf')
    put(clockTimes[n], 1251, top + 4, 12.5, active ? '#ffff00' : '#00e000', 'width:59px;text-align:center')
})

put('Hawkeye HeatMap  STLM', 7, 403, 10.5, '#fff')
put('H4 StepMA(25,0.5,50) 1.2226 1.2279 True -0.61663', 7, 466, 10.5, '#fff')
put('dz kst (9) -0.0904 -0.0981  H4 StepMA(25,0.5,50) 1.2226 1.2279 1.2278 1.2278', 7, 484, 10.5, '#fff')
put('dema macd zones arrows alerts 2_Sp -0.0615  dzz:  RSX (smoothed) (21,1, 9) 42.2443 34.7976 59.1536 36.4426 35.2226 1.2226 1.0000', 7, 580, 10.5, '#fff')
</script>
</body>
</html>
